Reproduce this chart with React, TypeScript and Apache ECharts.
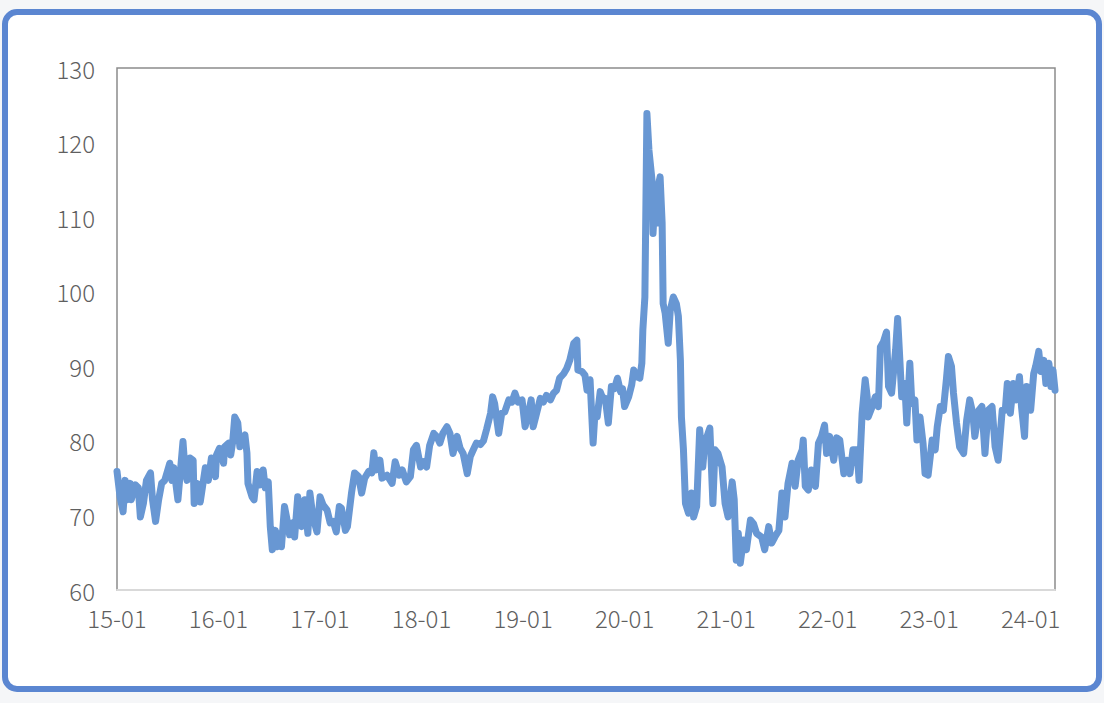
import React, { useEffect, useRef } from "react";
import * as echarts from "echarts";

// decimal-year positions of samples
const dates: number[] = [
  2015.00, 2015.03, 2015.06, 2015.08, 2015.10, 2015.13, 2015.14, 2015.18, 2015.21, 2015.23,
  2015.26, 2015.29, 2015.33, 2015.35, 2015.38, 2015.41, 2015.44, 2015.47, 2015.52, 2015.54,
  2015.56, 2015.60, 2015.65, 2015.67, 2015.69, 2015.72, 2015.75, 2015.76, 2015.79, 2015.82,
  2015.87, 2015.90, 2015.93, 2015.97, 2015.98, 2016.01, 2016.05, 2016.06, 2016.10, 2016.12,
  2016.14, 2016.16, 2016.19, 2016.21, 2016.24, 2016.26, 2016.28, 2016.29, 2016.33, 2016.35,
  2016.38, 2016.41, 2016.44, 2016.46, 2016.49, 2016.51, 2016.53, 2016.56, 2016.58, 2016.61,
  2016.62, 2016.65, 2016.67, 2016.70, 2016.73, 2016.75, 2016.78, 2016.82, 2016.85, 2016.88,
  2016.90, 2016.93, 2016.97, 2017.00, 2017.03, 2017.07, 2017.10, 2017.13, 2017.16, 2017.19,
  2017.21, 2017.25, 2017.27, 2017.31, 2017.34, 2017.38, 2017.41, 2017.44, 2017.48, 2017.51,
  2017.53, 2017.55, 2017.59, 2017.61, 2017.66, 2017.71, 2017.74, 2017.78, 2017.81, 2017.85,
  2017.89, 2017.92, 2017.95, 2017.99, 2018.02, 2018.05, 2018.08, 2018.12, 2018.15, 2018.18,
  2018.21, 2018.25, 2018.28, 2018.31, 2018.35, 2018.38, 2018.41, 2018.45, 2018.48, 2018.51,
  2018.54, 2018.58, 2018.61, 2018.64, 2018.68, 2018.70, 2018.72, 2018.76, 2018.79, 2018.82,
  2018.86, 2018.89, 2018.92, 2018.95, 2018.99, 2019.02, 2019.05, 2019.08, 2019.10, 2019.13,
  2019.17, 2019.20, 2019.23, 2019.27, 2019.30, 2019.33, 2019.36, 2019.40, 2019.43, 2019.46,
  2019.50, 2019.53, 2019.54, 2019.58, 2019.61, 2019.63, 2019.66, 2019.69, 2019.71, 2019.73,
  2019.76, 2019.79, 2019.81, 2019.84, 2019.87, 2019.90, 2019.93, 2019.96, 2019.98, 2020.00,
  2020.04, 2020.07, 2020.09, 2020.12, 2020.15, 2020.17, 2020.18, 2020.20, 2020.22, 2020.24,
  2020.27, 2020.28, 2020.30, 2020.32, 2020.33, 2020.35, 2020.37, 2020.38, 2020.40, 2020.43,
  2020.45, 2020.48, 2020.51, 2020.53, 2020.55, 2020.56, 2020.58, 2020.60, 2020.63, 2020.66,
  2020.68, 2020.71, 2020.74, 2020.77, 2020.79, 2020.84, 2020.87, 2020.89, 2020.92, 2020.96,
  2020.99, 2021.02, 2021.06, 2021.08, 2021.10, 2021.12, 2021.14, 2021.17, 2021.20, 2021.24,
  2021.27, 2021.30, 2021.35, 2021.38, 2021.42, 2021.45, 2021.48, 2021.52, 2021.55, 2021.58,
  2021.61, 2021.65, 2021.68, 2021.71, 2021.75, 2021.76, 2021.78, 2021.81, 2021.84, 2021.88,
  2021.91, 2021.94, 2021.97, 2021.99, 2022.02, 2022.06, 2022.09, 2022.12, 2022.16, 2022.19,
  2022.22, 2022.25, 2022.29, 2022.31, 2022.34, 2022.37, 2022.39, 2022.40, 2022.44, 2022.47,
  2022.50, 2022.52, 2022.55, 2022.58, 2022.60, 2022.63, 2022.67, 2022.69, 2022.71, 2022.73,
  2022.76, 2022.78, 2022.81, 2022.83, 2022.86, 2022.88, 2022.91, 2022.94, 2022.96, 2022.99,
  2023.03, 2023.06, 2023.08, 2023.11, 2023.14, 2023.17, 2023.19, 2023.22, 2023.24, 2023.27,
  2023.30, 2023.34, 2023.37, 2023.40, 2023.43, 2023.45, 2023.49, 2023.52, 2023.55, 2023.58,
  2023.62, 2023.65, 2023.68, 2023.72, 2023.75, 2023.77, 2023.80, 2023.83, 2023.86, 2023.89,
  2023.91, 2023.94, 2023.96, 2024.00, 2024.03, 2024.05, 2024.08, 2024.10, 2024.13, 2024.15,
  2024.18, 2024.20, 2024.22, 2024.24,
];

const values: number[] = [
  75.9, 72.5, 70.5, 74.7, 72.1, 74.3, 72.1, 74.1, 73.7, 69.8,
  71.6, 74.7, 75.7, 72.1, 69.2, 72.1, 74.3, 74.7, 77.0, 74.7,
  76.4, 72.1, 79.9, 76.1, 74.7, 77.7, 77.4, 71.6, 74.3, 71.8,
  76.4, 74.7, 77.7, 75.2, 78.1, 79.0, 77.0, 79.2, 79.7, 78.1,
  79.9, 83.2, 82.4, 79.2, 80.4, 80.8, 78.4, 74.3, 72.5, 72.1,
  75.9, 74.1, 76.1, 73.7, 74.5, 68.5, 65.4, 68.0, 65.8, 67.6,
  65.8, 71.2, 69.8, 67.4, 69.0, 67.1, 72.5, 68.5, 72.1, 67.6,
  73.0, 69.8, 67.8, 72.5, 71.4, 70.7, 69.0, 69.2, 67.8, 71.2,
  71.0, 68.0, 68.5, 73.0, 75.7, 75.2, 73.0, 75.0, 75.9, 75.7,
  78.4, 76.1, 77.4, 75.0, 75.4, 74.3, 77.2, 75.4, 76.1, 74.5,
  75.2, 78.8, 79.4, 76.5, 77.2, 76.5, 79.4, 81.0, 80.6, 79.7,
  81.0, 81.9, 81.0, 78.3, 80.6, 79.0, 78.3, 75.6, 77.9, 78.8,
  79.7, 79.5, 80.0, 81.5, 83.7, 85.9, 85.0, 81.0, 83.7, 83.9,
  85.5, 85.2, 86.4, 85.2, 85.5, 81.9, 83.5, 85.5, 81.9, 83.5,
  85.7, 85.2, 86.1, 85.5, 86.4, 86.8, 88.4, 89.0, 89.7, 90.8,
  93.1, 93.5, 89.5, 89.3, 88.8, 86.8, 88.2, 79.7, 84.1, 83.2,
  86.6, 85.5, 85.7, 82.4, 87.3, 87.0, 88.4, 86.6, 87.0, 84.6,
  85.9, 87.5, 89.5, 88.6, 88.4, 90.4, 94.9, 99.3, 123.9, 119.0,
  115.0, 107.8, 112.8, 109.2, 114.1, 115.4, 109.2, 98.4, 97.1, 93.1,
  97.5, 99.3, 98.4, 96.7, 90.8, 83.2, 78.8, 71.6, 70.3, 73.0,
  69.8, 71.2, 81.5, 76.5, 79.7, 81.7, 71.6, 78.8, 78.3, 76.5,
  71.6, 69.8, 74.5, 72.1, 64.0, 67.6, 63.6, 66.7, 65.4, 69.4,
  68.9, 67.6, 67.1, 65.4, 68.5, 66.3, 67.1, 68.0, 73.0, 69.8,
  74.3, 77.0, 73.9, 77.4, 78.8, 80.1, 73.9, 73.4, 76.1, 73.9,
  79.7, 80.6, 82.1, 78.3, 80.6, 77.4, 80.4, 80.1, 75.6, 77.4,
  75.6, 78.8, 78.8, 74.7, 83.7, 88.2, 85.9, 83.2, 84.6, 85.9,
  84.6, 92.6, 93.3, 94.6, 87.3, 86.4, 92.2, 96.4, 91.3, 85.9,
  87.7, 82.4, 90.4, 85.0, 85.5, 80.1, 83.2, 79.7, 75.6, 75.4,
  80.1, 78.8, 81.9, 84.6, 84.1, 88.2, 91.3, 90.0, 86.4, 82.4,
  79.2, 78.3, 82.8, 85.5, 83.7, 80.6, 84.1, 84.6, 78.3, 84.1,
  84.6, 79.2, 77.4, 84.1, 84.1, 87.7, 83.7, 87.7, 85.5, 88.6,
  84.6, 80.6, 87.3, 84.1, 89.0, 90.0, 92.0, 89.3, 90.8, 87.7,
  90.4, 87.3, 89.5, 86.8,
];

const yTicks = { min: 60, max: 130, step: 10 };
const xRange = { min: 2015, max: 2024.24, step: 1 };

export default function App() {
  const ref = useRef<HTMLDivElement>(null);
  useEffect(() => {
    if (!ref.current) return;
    const chart = echarts.init(ref.current, undefined, { renderer: "svg" });
    const data = dates.map((d, i) => [d, values[i]]);
    const font = "'Noto Sans CJK SC', 'Noto Sans', sans-serif";
    chart.setOption({
      animation: false,
      backgroundColor: "#f5f6f8",
      textStyle: { fontFamily: font },
      graphic: [
        {
          type: "rect",
          z: -10,
          shape: { x: 5, y: 12, width: 1094, height: 677, r: 12 },
          style: { fill: "#ffffff", stroke: "#5B86D1", lineWidth: 6 },
          silent: true,
        },
      ],
      grid: {
        left: 117,
        right: 49,
        top: 68,
        bottom: 113,
        show: true,
        borderColor: "#8c8c8c",
        borderWidth: 1.5,
        backgroundColor: "transparent",
      },
      xAxis: {
        type: "value",
        min: xRange.min,
        max: xRange.max,
        interval: xRange.step,
        axisLine: { show: true, lineStyle: { color: "#d9d9d9", width: 2 } },
        axisTick: { show: false },
        splitLine: { show: false },
        axisLabel: {
          showMaxLabel: false,
          color: "#5f5f5f",
          fontSize: 24,
          fontWeight: 300,
          margin: 15,
          fontFamily: font,
          formatter: (v: number) => {
            const yy = Math.round(v) % 100;
            return `${yy < 10 ? "0" + yy : yy}-01`;
          },
        },
      },
      yAxis: {
        type: "value",
        min: yTicks.min,
        max: yTicks.max,
        interval: yTicks.step,
        axisLine: { show: false },
        axisTick: { show: false },
        splitLine: { show: false },
        axisLabel: {
          color: "#5f5f5f",
          fontSize: 24,
          fontWeight: 300,
          margin: 22,
          fontFamily: font,
        },
      },
      series: [
        {
          type: "line",
          data,
          showSymbol: false,
          symbol: "none",
          lineStyle: { color: "#6897D3", width: 7, join: "round", cap: "round" },
        },
      ],
    });
    return () => chart.dispose();
  }, []);
  return (
    <div
      ref={ref}
      style={{ position: "fixed", left: 0, top: 0, width: 1104, height: 703 }}
    />
  );
}
